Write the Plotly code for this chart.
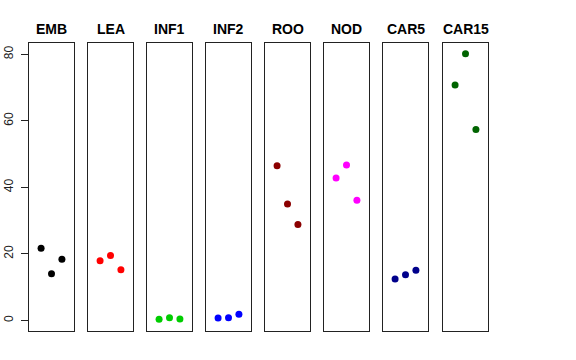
import plotly.graph_objects as go

categories = ["EMB", "LEA", "INF1", "INF2", "ROO", "NOD", "CAR5", "CAR15"]
replicates = [1, 2, 3]
values = {
    "EMB": [21.7, 14.0, 18.4],
    "LEA": [17.9, 19.5, 15.2],
    "INF1": [0.3, 0.8, 0.4],
    "INF2": [0.7, 0.8, 1.8],
    "ROO": [46.5, 35.0, 28.8],
    "NOD": [42.8, 46.7, 36.1],
    "CAR5": [12.4, 13.7, 15.1],
    "CAR15": [70.8, 80.2, 57.4],
}
colors = ["#000000", "#FF0000", "#00CD00", "#0000FF", "#8B0000", "#FF00FF", "#00008B", "#006400"]
y_ticks = [0, 20, 40, 60, 80]

W, H = 576, 360
lefts = [29, 88, 147, 206, 265, 324, 383, 443]
pw = 45
top, bottom = 43, 331

fig = go.Figure()
layout = dict(
    width=W, height=H, template="none",
    margin=dict(l=0, r=0, t=0, b=0, pad=0, autoexpand=False),
    paper_bgcolor="white", plot_bgcolor="white",
    showlegend=False,
    font=dict(family="Liberation Sans, Arial, sans-serif", color="black"),
)
annotations = []
for i, cat in enumerate(categories):
    n = "" if i == 0 else str(i + 1)
    fig.add_trace(go.Scatter(
        x=replicates, y=values[cat], mode="markers",
        marker=dict(color=colors[i], size=7, line=dict(width=0)),
        xaxis="x" + n, yaxis="y" + n, cliponaxis=False,
    ))
    dom = [lefts[i] / W, (lefts[i] + pw) / W]
    layout["xaxis" + n] = dict(
        domain=dom, range=[-0.16, 4.16], showgrid=False, zeroline=False,
        showticklabels=False, ticks="", showline=True, mirror=True,
        linecolor="#222222", linewidth=1, anchor="y" + n, fixedrange=True,
        automargin=False,
    )
    ya = dict(
        domain=[(H - bottom) / H, (H - top) / H], range=[-3.2, 83.4],
        showgrid=False, zeroline=False, showline=True, mirror=True,
        linecolor="#222222", linewidth=1, anchor="x" + n, automargin=False,
        fixedrange=True,
    )
    if i == 0:
        ya.update(tickvals=y_ticks, ticktext=[str(v) for v in y_ticks],
                  ticks="outside", ticklen=7, tickcolor="#222222",
                  tickangle=-90, tickfont=dict(size=12, color="#222222"),
                  ticklabelstandoff=3)
    else:
        ya.update(showticklabels=False, ticks="")
    layout["yaxis" + n] = ya
    annotations.append(dict(
        text="<b>" + cat + "</b>", x=(lefts[i] + pw / 2) / W, y=(H - 29) / H,
        xref="paper", yref="paper", showarrow=False, xanchor="center", yanchor="middle",
        font=dict(size=14, color="black"),
    ))
layout["annotations"] = annotations
fig.update_layout(**layout)
fig.write_html("out.html", config={"displayModeBar": False},
               post_script="document.body.style.margin='0';")
